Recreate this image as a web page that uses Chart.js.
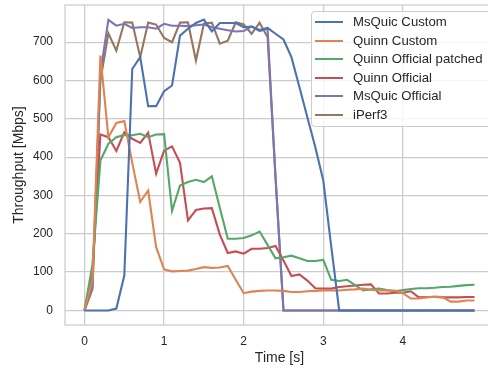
<!DOCTYPE html>
<html>
<head>
<meta charset="utf-8">
<title>Throughput</title>
<script src="https://cdn.jsdelivr.net/npm/chart.js@4"></script>
<style>
  html, body { margin: 0; padding: 0; overflow: hidden; background: #fff; }
  #wrap { position: relative; width: 496px; height: 370px; }
  #legend {
    position: absolute; left: 311px; top: 11px; width: 184px; height: 116px;
    box-sizing: border-box; background: rgba(255, 255, 255, 0.8);
    border: 1px solid #cccccc; border-radius: 4px;
    font: 13.2px "Liberation Sans", Arial, sans-serif; color: #262626;
  }
  #legend .item { position: absolute; left: 0; height: 18px; line-height: 18px; white-space: nowrap; }
  #legend .swatch { position: absolute; left: 3px; top: 8px; width: 28px; height: 2px; }
  #legend .text { position: absolute; left: 41px; top: 0; }
</style>
</head>
<body>
<div id="wrap">
  <canvas id="throughput-chart"></canvas>
  <div id="legend"></div>
</div>
<script>
// sample times in seconds
const timeS = [0, 0.1, 0.2, 0.3, 0.4, 0.5, 0.6, 0.7, 0.8, 0.9,
               1.0, 1.1, 1.2, 1.3, 1.4, 1.5, 1.6, 1.7, 1.8, 1.9,
               2.0, 2.1, 2.2, 2.3, 2.4, 2.5, 2.6, 2.7, 2.8, 2.9,
               3.0, 3.1, 3.2, 3.3, 3.4, 3.5, 3.6, 3.7, 3.8, 3.9,
               4.0, 4.1, 4.2, 4.3, 4.4, 4.5, 4.6, 4.7, 4.8, 4.9];

// throughput in Mbps
const msquicCustom = [0, 0, 0, 0, 5, 91, 630, 661, 533, 533,
                      572, 587, 717, 735, 750, 759, 728, 750, 750, 750,
                      739, 741, 732, 737, 722, 707, 661, 583, 504, 426,
                      339, 167, 0, 0, 0, 0, 0, 0, 0, 0,
                      0, 0, 0, 0, 0, 0, 0, 0, 0, 0];
const quinnCustom = [0, 80, 665, 452, 489, 494, 385, 283, 313, 165,
                     107, 102, 103, 104, 108, 113, 111, 112, 116, 80,
                     45, 49, 51, 52, 52, 51, 48, 48, 50, 51,
                     52, 52, 52, 54, 55, 57, 54, 52, 52, 52,
                     45, 31, 31, 34, 36, 35, 23, 23, 26, 26];
const quinnOfficialPatched = [0, 120, 391, 435, 452, 458, 457, 461, 452, 459,
                              460, 260, 326, 335, 341, 335, 350, 268, 187, 187,
                              189, 196, 206, 171, 136, 139, 143, 136, 129, 129,
                              132, 80, 77, 80, 66, 52, 55, 57, 53, 50,
                              53, 56, 58, 58, 59, 61, 62, 64, 66, 67];
const quinnOfficial = [0, 100, 459, 452, 416, 465, 448, 437, 464, 357,
                       417, 428, 385, 235, 262, 266, 267, 198, 150, 154,
                       148, 161, 161, 163, 168, 130, 90, 94, 78, 58,
                       57, 57, 61, 63, 65, 67, 68, 44, 44, 46,
                       46, 50, 34, 35, 35, 34, 34, 34, 35, 35];
const msquicOfficial = [0, 65, 620, 758, 743, 748, 737, 739, 739, 735,
                        748, 743, 743, 742, 744, 746, 739, 735, 731, 728,
                        729, 741, 729, 735, 345, 0, 0, 0, 0, 0,
                        0, 0, 0, 0, 0, 0, 0, 0, 0, 0,
                        0, 0, 0, 0, 0, 0, 0, 0, 0, 0];
const iperf3 = [0, 55, 600, 723, 678, 752, 751, 661, 751, 746,
                711, 700, 751, 752, 652, 748, 751, 696, 704, 752,
                746, 722, 751, 713, 350, 0, 0, 0, 0, 0,
                0, 0, 0, 0, 0, 0, 0, 0, 0, 0,
                0, 0, 0, 0, 0, 0, 0, 0, 0, 0];

const seriesLabels = ['MsQuic Custom', 'Quinn Custom', 'Quinn Official patched',
                      'Quinn Official', 'MsQuic Official', 'iPerf3'];
const seriesValues = [msquicCustom, quinnCustom, quinnOfficialPatched,
                      quinnOfficial, msquicOfficial, iperf3];
const seriesColors = ['#4c72b0', '#dd8452', '#55a868', '#c44e52', '#8172b3', '#937860'];

Chart.defaults.font.family = '"Liberation Sans", Arial, sans-serif';
Chart.defaults.color = '#262626';

const gridColor = '#cccccc';

// light frame around the plot area
const plotFrame = {
    id: 'plotFrame',
    beforeDatasetsDraw(chart) {
        const {ctx, chartArea: a} = chart;
        ctx.save();
        ctx.strokeStyle = gridColor;
        ctx.lineWidth = 1.25;
        ctx.strokeRect(a.left, a.top, a.width, a.height);
        ctx.restore();
    }
};

// fixed axis sizes, no extra room reserved for edge labels
const fixAxis = (size) => scale => {
    if (scale.isHorizontal()) scale.height = size;
    else scale.width = size;
    scale.paddingTop = 0;
    scale.paddingBottom = 0;
    scale.paddingLeft = 0;
    scale.paddingRight = 0;
};

const chart = new Chart(document.getElementById('throughput-chart'), {
    type: 'line',
    data: {
        datasets: seriesLabels.map((label, k) => ({
            label: label,
            data: timeS.map((t, i) => ({x: t, y: seriesValues[k][i]})),
            borderColor: seriesColors[k],
            backgroundColor: seriesColors[k],
            borderWidth: 2.1,
            pointRadius: 0,
            tension: 0,
            fill: false
        }))
    },
    options: {
        responsive: true,
        maintainAspectRatio: false,
        animation: false,
        layout: {
            autoPadding: false,
            padding: {top: 5, right: 2, left: 0, bottom: 0}
        },
        scales: {
            x: {
                type: 'linear',
                min: -0.245,
                max: 5.145,
                afterBuildTicks: scale => {
                    scale.ticks = scale.ticks.filter(t => t.value <= 4);
                },
                afterFit: fixAxis(45),
                ticks: {
                    stepSize: 1,
                    includeBounds: false,
                    padding: 9,
                    font: {size: 12}
                },
                grid: {color: gridColor, lineWidth: 1.25, drawTicks: false},
                border: {display: false},
                title: {
                    display: true,
                    text: 'Time [s]',
                    font: {size: 14},
                    padding: {top: 0, bottom: 3}
                }
            },
            y: {
                min: -38,
                max: 797,
                afterFit: fixAxis(65),
                ticks: {
                    stepSize: 100,
                    includeBounds: false,
                    padding: 12,
                    font: {size: 12}
                },
                grid: {color: gridColor, lineWidth: 1.25, drawTicks: false},
                border: {display: false},
                title: {
                    display: true,
                    text: 'Throughput [Mbps]',
                    font: {size: 14},
                    padding: {top: 11, bottom: 0}
                }
            }
        },
        plugins: {
            legend: {display: false},
            tooltip: {enabled: false}
        }
    },
    plugins: [plotFrame]
});

// legend box in the upper right corner
const legendBox = document.getElementById('legend');
chart.data.datasets.forEach((ds, i) => {
    const item = document.createElement('div');
    item.className = 'item';
    item.style.top = (1 + i * 18.6) + 'px';
    const swatch = document.createElement('span');
    swatch.className = 'swatch';
    swatch.style.background = ds.borderColor;
    const text = document.createElement('span');
    text.className = 'text';
    text.textContent = ds.label;
    item.appendChild(swatch);
    item.appendChild(text);
    legendBox.appendChild(item);
});
</script>
</body>
</html>
